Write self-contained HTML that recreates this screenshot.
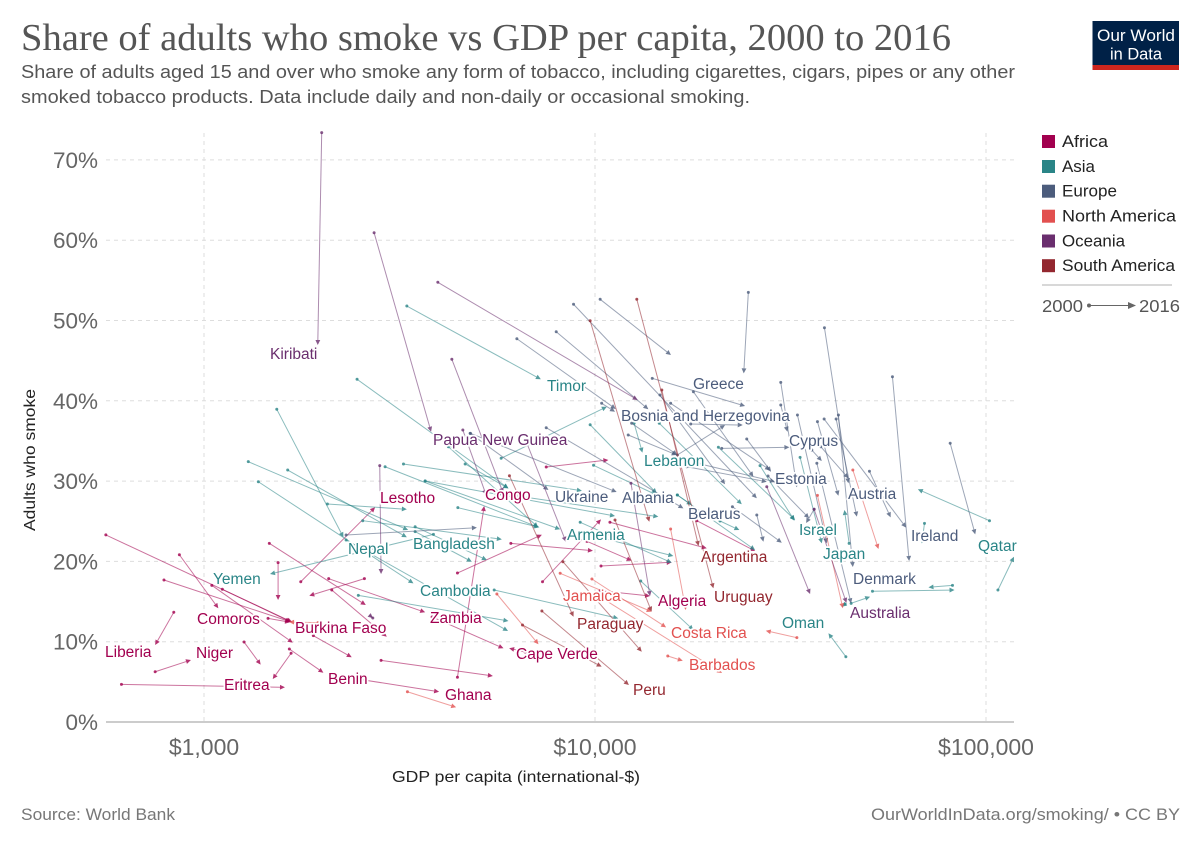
<!DOCTYPE html>
<html lang="en">
<head>
<meta charset="utf-8">
<title>Share of adults who smoke vs GDP per capita, 2000 to 2016</title>
<style>
html,body{margin:0;padding:0;background:#fff;}
svg{display:block;font-family:"Liberation Sans",sans-serif;}
.lbl{font-size:15.5px;paint-order:stroke;stroke:#fff;stroke-width:3.5px;stroke-linejoin:round;}
.af{fill:#a2004f}.as{fill:#2a8587}.eu{fill:#4c5c7c}.na{fill:#e2504f}.oc{fill:#6a2e6e}.sa{fill:#93272f}
</style>
</head>
<body>
<svg id="chart" xmlns="http://www.w3.org/2000/svg" width="1200" height="847" viewBox="0 0 1200 847">
  <rect width="1200" height="847" fill="#fff"/>
  <text x="21" y="50" font-family="'Liberation Serif',serif" font-size="38" fill="#555" textLength="930" lengthAdjust="spacingAndGlyphs">Share of adults who smoke vs GDP per capita, 2000 to 2016</text>
  <text x="21" y="78" font-size="18.5" fill="#555" textLength="994" lengthAdjust="spacingAndGlyphs">Share of adults aged 15 and over who smoke any form of tobacco, including cigarettes, cigars, pipes or any other</text>
  <text x="21" y="103" font-size="18.5" fill="#555" textLength="729" lengthAdjust="spacingAndGlyphs">smoked tobacco products. Data include daily and non-daily or occasional smoking.</text>

  <g>
    <rect x="1092.5" y="21" width="86.5" height="49" fill="#002147"/>
    <rect x="1092.5" y="65" width="86.5" height="5" fill="#ce261e"/>
    <text x="1136" y="41" font-size="16.5" fill="#fff" text-anchor="middle" textLength="78" lengthAdjust="spacingAndGlyphs">Our World</text>
    <text x="1136" y="59.5" font-size="16.5" fill="#fff" text-anchor="middle" textLength="52" lengthAdjust="spacingAndGlyphs">in Data</text>
  </g>

  <g id="grid"></g>
  <g id="ticks"></g>
  <text x="0" y="0" transform="translate(35,531) rotate(-90)" font-size="16" fill="#222" textLength="142" lengthAdjust="spacingAndGlyphs">Adults who smoke</text>
  <text x="392" y="782" font-size="16" fill="#222" textLength="248" lengthAdjust="spacingAndGlyphs">GDP per capita (international-$)</text>
  <g id="marks"></g>

  <g>
    <text class="lbl oc" x="270" y="359">Kiribati</text>
    <text class="lbl eu" x="693" y="389">Greece</text>
    <text class="lbl as" x="547" y="391">Timor</text>
    <text class="lbl eu" x="621" y="421">Bosnia and Herzegovina</text>
    <text class="lbl oc" x="433" y="445">Papua New Guinea</text>
    <text class="lbl eu" x="789" y="446">Cyprus</text>
    <text class="lbl as" x="644" y="466">Lebanon</text>
    <text class="lbl eu" x="775" y="484">Estonia</text>
    <text class="lbl eu" x="848" y="499">Austria</text>
    <text class="lbl eu" x="555" y="502">Ukraine</text>
    <text class="lbl eu" x="622" y="503">Albania</text>
    <text class="lbl af" x="380" y="503">Lesotho</text>
    <text class="lbl af" x="485" y="500">Congo</text>
    <text class="lbl eu" x="688" y="519">Belarus</text>
    <text class="lbl as" x="799" y="535">Israel</text>
    <text class="lbl eu" x="911" y="541">Ireland</text>
    <text class="lbl as" x="567" y="540">Armenia</text>
    <text class="lbl as" x="413" y="549">Bangladesh</text>
    <text class="lbl as" x="978" y="551">Qatar</text>
    <text class="lbl as" x="348" y="554">Nepal</text>
    <text class="lbl as" x="823" y="559">Japan</text>
    <text class="lbl sa" x="701" y="562">Argentina</text>
    <text class="lbl as" x="213" y="584">Yemen</text>
    <text class="lbl eu" x="853" y="584">Denmark</text>
    <text class="lbl as" x="420" y="596">Cambodia</text>
    <text class="lbl sa" x="714" y="602">Uruguay</text>
    <text class="lbl na" x="563" y="601">Jamaica</text>
    <text class="lbl af" x="658" y="606">Algeria</text>
    <text class="lbl oc" x="850" y="618">Australia</text>
    <text class="lbl af" x="197" y="624">Comoros</text>
    <text class="lbl af" x="430" y="623">Zambia</text>
    <text class="lbl as" x="782" y="628">Oman</text>
    <text class="lbl sa" x="577" y="629">Paraguay</text>
    <text class="lbl af" x="295" y="633">Burkina Faso</text>
    <text class="lbl na" x="671" y="638">Costa Rica</text>
    <text class="lbl af" x="105" y="657">Liberia</text>
    <text class="lbl af" x="196" y="658">Niger</text>
    <text class="lbl af" x="516" y="659">Cape Verde</text>
    <text class="lbl na" x="689" y="670">Barbados</text>
    <text class="lbl af" x="328" y="684">Benin</text>
    <text class="lbl af" x="224" y="690">Eritrea</text>
    <text class="lbl sa" x="633" y="695">Peru</text>
    <text class="lbl af" x="445" y="700">Ghana</text>
  </g>

  <g>
    <rect x="1042" y="135" width="13" height="13" fill="#a2004f"/>
    <text x="1062" y="147" font-size="17" fill="#222" textLength="46" lengthAdjust="spacingAndGlyphs">Africa</text>
    <rect x="1042" y="160" width="13" height="13" fill="#2a8587"/>
    <text x="1062" y="172" font-size="17" fill="#222" textLength="33" lengthAdjust="spacingAndGlyphs">Asia</text>
    <rect x="1042" y="184.7" width="13" height="13" fill="#4c5c7c"/>
    <text x="1062" y="196.5" font-size="17" fill="#222" textLength="55" lengthAdjust="spacingAndGlyphs">Europe</text>
    <rect x="1042" y="209.7" width="13" height="13" fill="#e2504f"/>
    <text x="1062" y="221.5" font-size="17" fill="#222" textLength="114" lengthAdjust="spacingAndGlyphs">North America</text>
    <rect x="1042" y="234.5" width="13" height="13" fill="#6a2e6e"/>
    <text x="1062" y="246.5" font-size="17" fill="#222" textLength="63" lengthAdjust="spacingAndGlyphs">Oceania</text>
    <rect x="1042" y="259.2" width="13" height="13" fill="#93272f"/>
    <text x="1062" y="271" font-size="17" fill="#222" textLength="113" lengthAdjust="spacingAndGlyphs">South America</text>
    <line x1="1042" y1="285" x2="1172" y2="285" stroke="#ccc" stroke-width="1.5"/>
    <text x="1042" y="312" font-size="17.5" fill="#555" textLength="41" lengthAdjust="spacingAndGlyphs">2000</text>
    <circle cx="1089" cy="305.5" r="2" fill="#666"/>
    <line x1="1089" y1="305.5" x2="1131" y2="305.5" stroke="#666" stroke-width="1"/>
    <polygon points="1136,305.5 1128,302 1128,309" fill="#666"/>
    <text x="1139" y="312" font-size="17.5" fill="#555" textLength="41" lengthAdjust="spacingAndGlyphs">2016</text>
  </g>

  <text x="21" y="820" font-size="16.5" fill="#777" textLength="154" lengthAdjust="spacingAndGlyphs">Source: World Bank</text>
  <text x="871" y="820" font-size="16.5" fill="#777" textLength="309" lengthAdjust="spacingAndGlyphs">OurWorldInData.org/smoking/ • CC BY</text>
</svg>
<script>
const xTicks=[1000,10000,100000];
const xTickLabels=["$1,000","$10,000","$100,000"];
const yTicks=[0,10,20,30,40,50,60,70];
const yTickLabels=["0%","10%","20%","30%","40%","50%","60%","70%"];

const africaGdp2000=[561,865,790,1047,1114,1458,1547,1469,1768,2572,2084,2122,1904,837,750,1266,1653,1670,615,2837,2100,4448,4448,6092,3832,6629,10308,10360,9535,7503,10920,18210,7341];
const africaShare2000=[23.3,20.83,17.68,17.02,16.53,12.91,19.84,22.25,17.47,17.85,17.85,16.44,10.75,13.66,6.26,9.96,9.09,8.56,4.69,7.68,5.89,5.57,18.55,22.25,13.08,8.72,16.35,19.43,22.5,31.76,24.87,25.07,17.47];
const africaGdp2016=[1680,1088,1660,1687,1670,1660,1547,2593,2739,1859,3678,2934,2387,750,926,1396,2020,1499,1611,5481,3993,5207,7314,9879,5834,6031,13830,15710,12410,10820,19310,25670,10360];
const africaShare2016=[12.45,14.16,12.49,9.88,12.45,12.42,15.19,14.57,26.74,15.73,13.66,10.62,8.06,9.59,7.72,7.14,6.14,5.35,4.32,5.73,3.77,26.9,23.32,21.33,9.18,9.18,15.69,19.89,20.09,32.63,21.63,21.29,25.24];

const asiaGdp2000=[2463,3302,1535,1298,1637,1377,2905,3237,3678,3678,4655,4459,5754,2068,2547,3467,3467,3862,5523,2481,2309,9164,9718,5720,9914,9718,12590,14600,20680,26430,16240,20880,16240,13090,43810,45190,51240,82090,102080,107280,69610,33460,44660,43630,4217];
const asiaShare2000=[42.68,51.8,38.94,32.42,31.38,29.92,31.79,32.13,30.01,30.01,32.13,26.69,32.84,27.15,25.07,24.32,23.71,23.37,16.44,15.77,22.66,24.87,23.29,28.46,31.97,37.02,37.2,37.2,34.21,31.92,28.27,25.03,28.27,17.56,8.13,14.78,16.28,17.02,25.07,16.44,24.74,32.96,22.25,14.69,34.28];
const asiaGdp2016=[6007,7270,2273,3327,3302,3433,7168,9257,11250,8145,6007,7209,10720,3302,5778,5290,4842,1475,11470,6007,5992,15710,15860,14520,14380,14380,13220,23730,32500,32370,17680,23400,25670,17850,39540,50540,83080,71260,66950,117900,68540,38020,43450,42780,7155];
const asiaShare2016=[29.1,42.68,23.0,23.91,23.0,17.27,24.25,28.8,25.65,24.0,29.1,24.25,39.26,26.49,22.75,20.17,19.96,18.43,12.91,12.58,11.33,19.84,20.67,25.57,28.27,28.48,33.54,27.11,25.15,25.07,27.02,23.91,21.42,11.46,11.05,15.6,16.44,16.77,28.98,20.58,22.25,22.25,26.4,14.36,24.25];

const europeGdp2000=[6312,7958,8812,10308,24670,14010,17850,14660,15610,24440,29860,29860,32940,38620,41930,37060,38550,41370,36930,35850,37790,50340,57640,80980,21090,25930,22460,17170,18140,12410,12160,16240,17570,4802,4793,7503,27710,36340,2309,10400];
const europeShare2000=[47.73,48.6,52.02,52.64,53.51,42.8,41.13,40.72,39.69,35.24,42.3,39.48,38.23,49.1,38.23,37.4,37.73,37.73,32.22,33.87,34.28,31.22,43.0,34.71,34.08,25.78,26.81,31.79,32.25,37.2,35.74,33.25,37.11,35.95,35.95,36.65,30.63,26.49,23.29,39.69];
const europeGdp2016=[11300,13690,25930,15640,24010,24200,25410,21510,28040,28200,32830,31060,39170,44480,45650,41930,62500,46740,45190,38020,44480,57030,63600,93850,31420,26960,30040,27500,28880,16240,16180,21510,23870,11360,7603,16830,35280,34670,4988,11250];
const europeShare2016=[38.98,38.94,27.86,45.7,43.42,39.35,30.55,29.6,31.38,31.17,29.23,36.15,22.25,29.73,19.3,28.18,24.2,25.57,14.78,32.5,30.35,25.49,20.05,23.37,34.21,22.45,22.33,29.92,29.92,33.25,33.25,36.98,36.98,28.64,28.89,26.61,25.37,24.78,24.2,38.64];

const northAmericaGdp2000=[3313,5611,8145,9820,10308,15350,15610,32830,45650,37060,1957];
const northAmericaShare2000=[3.77,15.94,18.52,17.81,15.57,8.22,24.03,10.5,31.38,28.23,12.37];
const northAmericaGdp2016=[4414,7168,13960,15200,21130,16770,17070,27340,53090,43040,1650];
const northAmericaShare2016=[1.83,9.68,13.74,11.79,6.1,7.63,13.95,11.37,21.54,14.16,12.45];

const oceaniaGdp2000=[2000,2723,3963,4304,4592,6707,12360,27500,36340,2815,2702];
const oceaniaShare2000=[73.39,60.93,54.76,45.17,36.36,34.62,29.73,29.3,26.49,31.92,12.95];
const oceaniaGdp2016=[1954,3809,12860,5823,5268,8426,13830,35490,43970,2837,2705];
const oceaniaShare2016=[46.95,36.15,40.1,28.52,28.27,22.45,15.69,15.94,14.84,18.43,12.93];

const southAmericaGdp2000=[9718,12790,14820,6041,8278,7314,6524,11250];
const southAmericaShare2000=[49.97,52.64,41.34,30.67,19.96,13.82,12.08,25.15];
const southAmericaGdp2016=[13770,20080,18400,8812,13170,12210,10400,13960];
const southAmericaShare2016=[24.94,16.65,21.92,13.11,8.75,4.61,6.89,13.74];

const NS="http://www.w3.org/2000/svg";
const xScale=function(gdp){return 204+391*(Math.log10(gdp)-3);};
const yScale=function(share){return 722-8.03*share;};

const continentSeries=[
  {key:"africa",color:"#a2004f",g0:africaGdp2000,s0:africaShare2000,g1:africaGdp2016,s1:africaShare2016},
  {key:"asia",color:"#2a8587",g0:asiaGdp2000,s0:asiaShare2000,g1:asiaGdp2016,s1:asiaShare2016},
  {key:"europe",color:"#4c5c7c",g0:europeGdp2000,s0:europeShare2000,g1:europeGdp2016,s1:europeShare2016},
  {key:"north-america",color:"#e2504f",g0:northAmericaGdp2000,s0:northAmericaShare2000,g1:northAmericaGdp2016,s1:northAmericaShare2016},
  {key:"oceania",color:"#6a2e6e",g0:oceaniaGdp2000,s0:oceaniaShare2000,g1:oceaniaGdp2016,s1:oceaniaShare2016},
  {key:"south-america",color:"#93272f",g0:southAmericaGdp2000,s0:southAmericaShare2000,g1:southAmericaGdp2016,s1:southAmericaShare2016}
];

function make(tag,attrs,parent){
  const el=document.createElementNS(NS,tag);
  for(const k in attrs){el.setAttribute(k,attrs[k]);}
  parent.appendChild(el);
  return el;
}

const grid=document.getElementById("grid");
const ticks=document.getElementById("ticks");
yTicks.forEach(function(t,i){
  const y=yScale(t);
  const line=make("line",{x1:106,x2:1014,y1:y,y2:y,stroke:t===0?"#ccc":"#ddd","stroke-width":t===0?2:1,"stroke-dasharray":t===0?"none":"4,4"},grid);
  
  
  const label=make("text",{x:98,y:y+8,"text-anchor":"end","font-size":22.5,fill:"#666"},ticks);
  
  
  label.textContent=yTickLabels[i];
});
xTicks.forEach(function(t,i){
  const x=xScale(t);
  const line=make("line",{x1:x,x2:x,y1:133,y2:721,stroke:"#ddd","stroke-width":1,"stroke-dasharray":"4,4"},grid);
  
  
  const label=make("text",{x:x,y:755,"text-anchor":"middle","font-size":23,fill:"#666"},ticks);
  
  
  label.textContent=xTickLabels[i];
});

const marks=document.getElementById("marks");
continentSeries.forEach(function(series){
  const group=make("g",{},marks);
  
  
  series.g0.forEach(function(_,i){
    const x0=xScale(series.g0[i]),y0=yScale(series.s0[i]);
    const x1=xScale(series.g1[i]),y1=yScale(series.s1[i]);
    const a=Math.atan2(y1-y0,x1-x0);
    const headLen=5,headHalf=2.4;
    const bx=x1-headLen*Math.cos(a),by=y1-headLen*Math.sin(a);
    const nx=-Math.sin(a)*headHalf,ny=Math.cos(a)*headHalf;
    const line=make("line",{x1:x0,y1:y0,x2:bx,y2:by,stroke:series.color,"stroke-width":1,"stroke-opacity":0.55},group);
    
    
    const dot=make("circle",{cx:x0,cy:y0,r:1.5,fill:series.color,"fill-opacity":0.8},group);
    
    
    const head=make("polygon",{points:x1+","+y1+" "+(bx+nx)+","+(by+ny)+" "+(bx-nx)+","+(by-ny),fill:series.color,"fill-opacity":0.8},group);
    
    
  });
});
</script>
</body>
</html>
